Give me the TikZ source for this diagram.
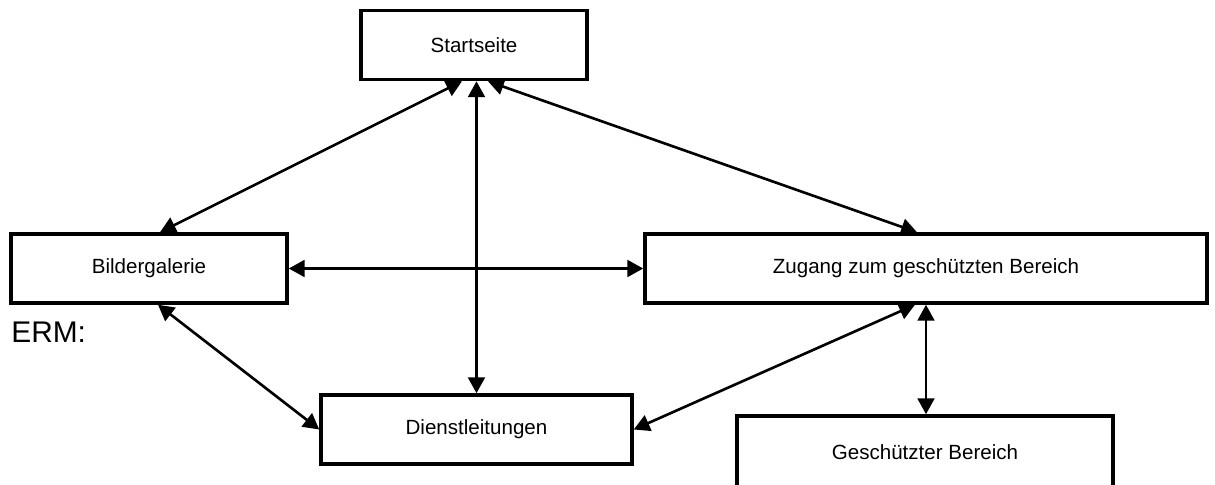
\documentclass[tikz,border=0pt]{standalone}
\usepackage{fontspec}
\setmainfont{Liberation Sans}
\usetikzlibrary{arrows.meta,calc,positioning}

\begin{document}
\begin{tikzpicture}[
  x=0.02cm, y=-0.02cm,
  page/.style={rectangle, draw, line width=2pt, minimum height=69*0.02cm, inner sep=0pt, font=\fontsize{11.7}{14}\selectfont},
  arrow/.style={{Triangle[length=9pt,width=9.5pt]}-{Triangle[length=9pt,width=9.5pt]}, line width=1.5pt}
]
\clip (0,0) rectangle (1215,484);

\node[page, minimum width=226*0.02cm] (start) at (474,45) {Startseite};
\node[page, minimum width=276*0.02cm] (gal) at (149,268.5) {Bildergalerie};
\node[page, minimum width=562*0.02cm] (zug) at (926,268.5) {Zugang zum geschützten Bereich};
\node[page, minimum width=311*0.02cm] (dienst) at (476.5,429.5) {Dienstleitungen};
\node[page, minimum width=376*0.02cm, minimum height=72*0.02cm] (gesch) at (925,452) {Geschützter Bereich};

\node[anchor=west, inner sep=0pt, font=\fontsize{17}{20}\selectfont] (erm) at (11,332) {ERM:};

\draw[arrow] ($(start.south)+(-12,0)$) -- ($(gal.north)+(11,0)$);
\draw[arrow] (dienst.north |- start.south) -- (dienst.north);
\draw[arrow] ($(start.south)+(14,0)$) -- ($(zug.north)+(-9,0)$);
\draw[arrow] (gal.east) -- (zug.west);
\draw[arrow] ($(gal.south)+(9,0)$) -- (dienst.west);
\draw[arrow] (dienst.east) -- ($(zug.south)+(-11,0)$);
\draw[arrow] (zug.south) -- (zug.south |- gesch.north);

\end{tikzpicture}
\end{document}
